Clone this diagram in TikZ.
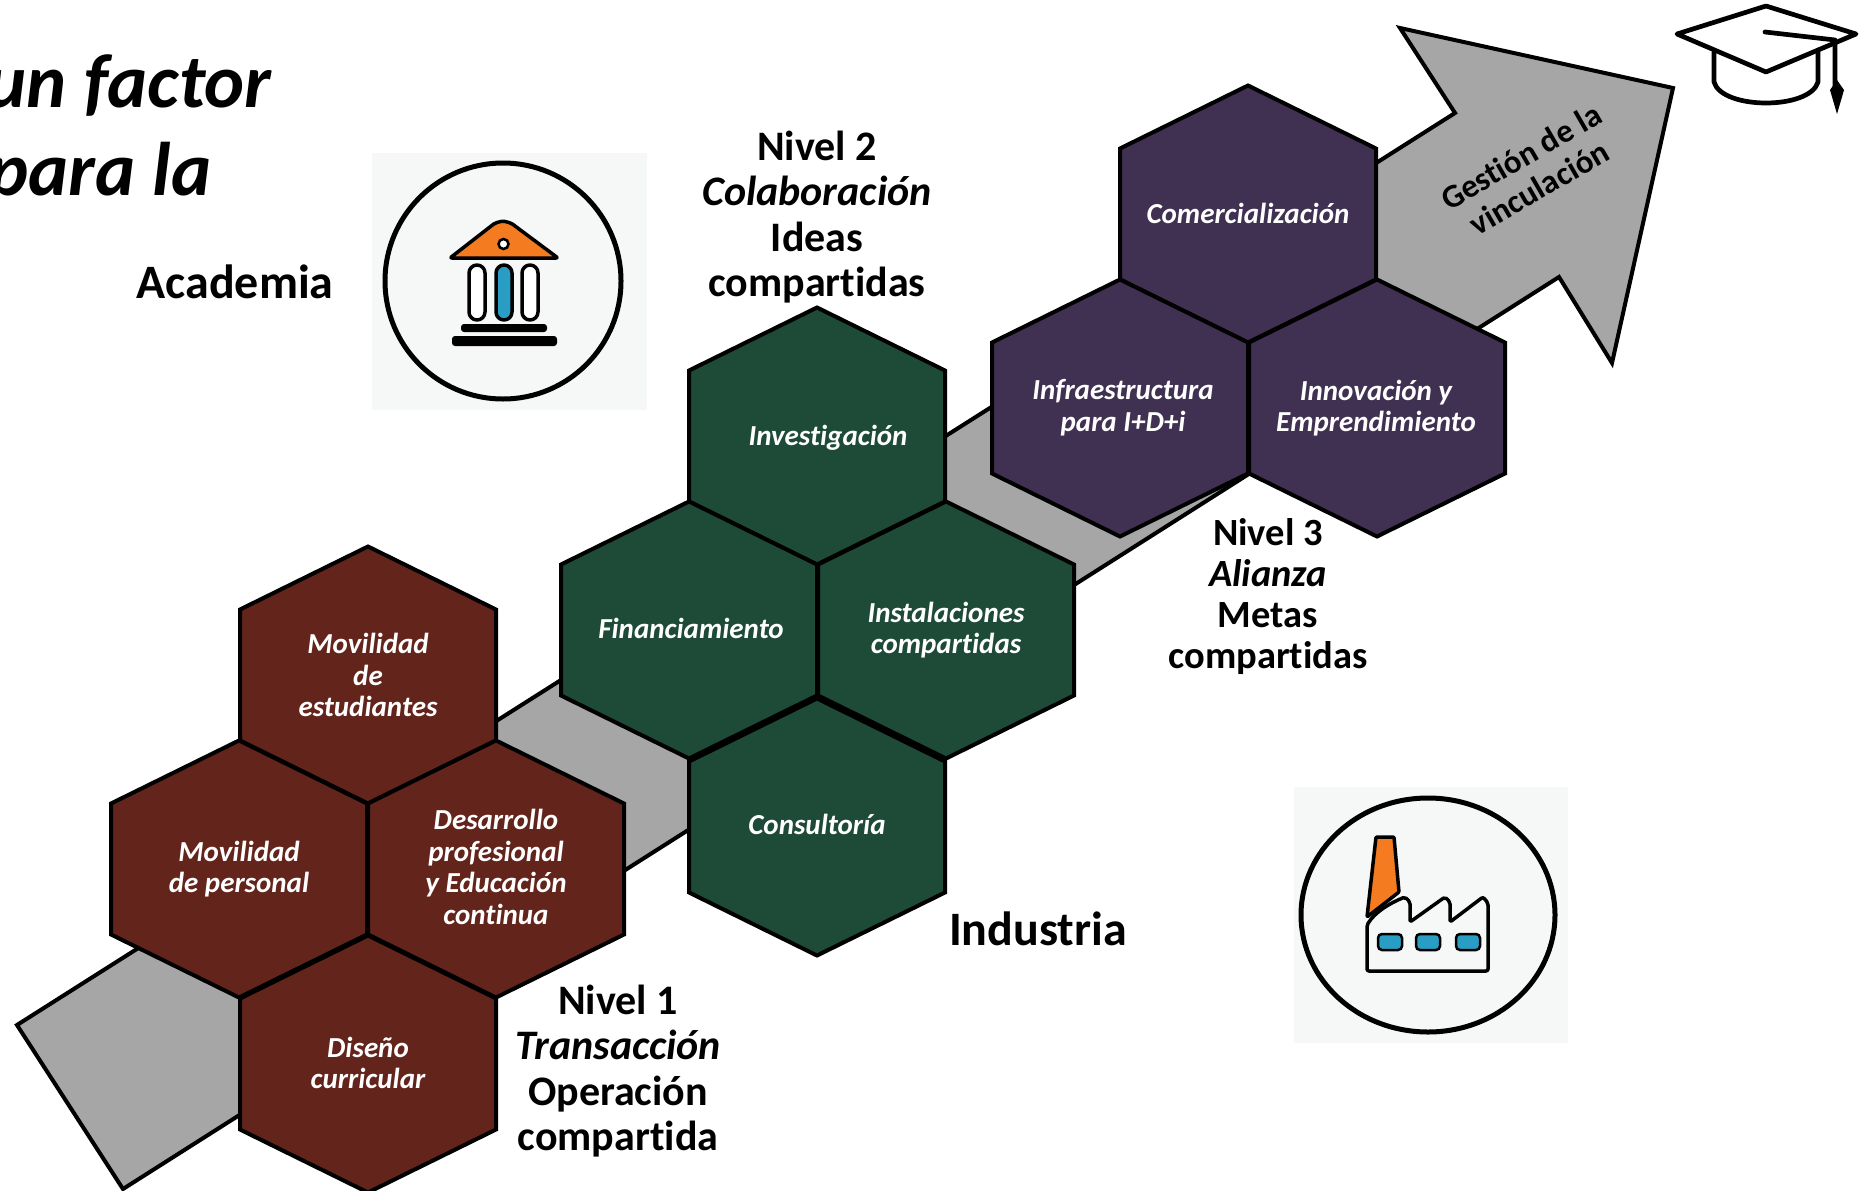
\documentclass[tikz,border=0pt]{standalone}
\usepackage{fontspec}
\setmainfont[Ligatures=NoCommon]{Carlito}

\definecolor{cellbrown}{HTML}{63241B}
\definecolor{cellgreen}{HTML}{1E4A38}
\definecolor{cellpurple}{HTML}{403052}
\definecolor{arrowgrey}{HTML}{A6A6A6}
\definecolor{iconorange}{HTML}{F47B20}
\definecolor{iconblue}{HTML}{2A9DC4}
\definecolor{iconback}{HTML}{F6F8F8}

\newcommand{\hexcell}[3]{\draw[hex line, fill=#3, shift={(#1,#2)}] (-128,-65.5) -- (0,-128.5) -- (128,-65.5) -- (128,65.5) -- (0,128.5) -- (-128,65.5) -- cycle;}

\begin{document}
\begin{tikzpicture}[x=1pt,y=-1pt,line join=miter,
    hex line/.style={draw=black,line width=4pt},
    hex text/.style={align=center,text=white,font=\fontsize{29}{31.7}\selectfont\bfseries\itshape},
    big text/.style={align=center,text=black,font=\fontsize{42}{45.5}\selectfont\bfseries},
    mid text/.style={align=center,text=black,font=\fontsize{38.5}{41}\selectfont\bfseries},
    name text/.style={align=center,text=black,font=\fontsize{48}{50}\selectfont\bfseries},
    title text/.style={anchor=east,text=black,font=\fontsize{76}{80}\selectfont\bfseries\itshape},
    icon line/.style={draw=black,line width=3.5pt,line join=round},
    cap line/.style={draw=black,line width=4.7pt,line join=round,line cap=round}]

    \useasboundingbox (0,0) rectangle (1861,1191);

    % title
    \node[title text] (title1) at (275,86) {un factor};
    \node[title text] (title2) at (215,175) {para la};

    % big arrow
    \draw[fill=arrowgrey,draw=black,line width=4pt] (17,1025) -- (1455,113) -- (1400,28) -- (1673,88) -- (1612,363) -- (1559,277) -- (123,1189) -- cycle;
    \node[font=\fontsize{33}{36}\selectfont\bfseries,align=center,rotate=30] (gestion) at (1530,172) {Gestión de la\\vinculación};

    % level 1
    \hexcell{368}{675}{cellbrown}
    \hexcell{239}{869}{cellbrown}
    \hexcell{496}{869}{cellbrown}
    \hexcell{368}{1064}{cellbrown}
    \node[hex text] (movest) at (368,675) {Movilidad\\de\\estudiantes};
    \node[hex text] (movper) at (239,869) {Movilidad\\de personal};
    \node[hex text] (desa) at (496,867) {Desarrollo\\profesional\\y Educación\\continua};
    \node[hex text] (dis) at (368,1063) {Diseño\\curricular};

    % level 2
    \hexcell{817}{436}{cellgreen}
    \hexcell{689}{630}{cellgreen}
    \hexcell{946}{630}{cellgreen}
    \hexcell{817}{827}{cellgreen}
    \node[hex text] (inv) at (828,438) {Investigación};
    \node[hex text] (fin) at (691,628) {Financiamiento};
    \node[hex text] (ins) at (946,630) {Instalaciones\\compartidas};
    \node[hex text] (con) at (817,824) {Consultoría};

    % level 3
    \hexcell{1248}{214}{cellpurple}
    \hexcell{1120}{408}{cellpurple}
    \hexcell{1377}{408}{cellpurple}
    \node[hex text] (com) at (1248,213) {Comercialización};
    \node[hex text] (inf) at (1123,408) {Infraestructura\\para I+D+i};
    \node[hex text] (inn) at (1376,408) {Innovación y\\Emprendimiento};

    % labels
    \node[big text] (niv1) at (618,1071) {Nivel 1\\\textit{Transacción}\\Operación\\compartida};
    \node[big text] (niv2) at (817,217) {Nivel 2\\\textit{Colaboración}\\Ideas\\compartidas};
    \node[mid text] (niv3) at (1268,597) {Nivel 3\\\textit{Alianza}\\Metas\\compartidas};
    \node[name text] (aca) at (235,282) {Academia};
    \node[name text] (ind) at (1038,929) {Industria};

    % academia icon
    \fill[iconback] (372,153) rectangle (647,410);
    \draw[draw=black,line width=5pt] (503,281) circle (118);
    \draw[icon line,fill=iconorange,rounded corners=2pt] (450,258) -- (495,223) -- (503,221) -- (511,223) -- (558,258) -- cycle;
    \draw[draw=black,line width=2.5pt,fill=white] (503.5,244) circle (5);
    \draw[icon line,fill=white,rounded corners=8pt] (469,265) rectangle (485,320);
    \draw[icon line,fill=iconblue,rounded corners=8pt] (496,265) rectangle (512,320);
    \draw[icon line,fill=white,rounded corners=8pt] (522,265) rectangle (538,320);
    \fill[black,rounded corners=3pt] (461,324) rectangle (547,332);
    \fill[black,rounded corners=3pt] (452,336) rectangle (557,346);

    % industria icon
    \fill[iconback] (1294,787) rectangle (1568,1043);
    \draw[draw=black,line width=5pt] (1428,915) ellipse [x radius=127,y radius=117];
    \draw[icon line,fill=iconorange,rounded corners=1pt] (1376,837) -- (1394,837) -- (1399,892) -- (1367,917) -- cycle;
    \draw[icon line,fill=iconback,rounded corners=2pt] (1367,971) -- (1367,925) .. controls (1375,912) and (1390,903) .. (1405,897) -- (1410,902) -- (1410,922) -- (1445,897) -- (1450,902) -- (1450,922) -- (1483,897) -- (1488,903) -- (1488,971) -- cycle;
    \foreach \wx in {1390,1428,1468}
        \draw[draw=black,line width=2.5pt,fill=iconblue,rounded corners=4pt] (\wx-12,934) rectangle (\wx+12,950);

    % graduation cap
    \draw[cap line] (1714,52) -- (1714,82) .. controls (1722,110) and (1810,110) .. (1818,82) -- (1818,50);
    \draw[cap line] (1677,34) -- (1766,6) -- (1856,34) -- (1766,72) -- cycle;
    \draw[cap line] (1765,32) -- (1835,40) -- (1835,87);
    \fill[black] (1837,80) -- (1844,90) -- (1837,114) -- (1830,90) -- cycle;
\end{tikzpicture}
\end{document}
